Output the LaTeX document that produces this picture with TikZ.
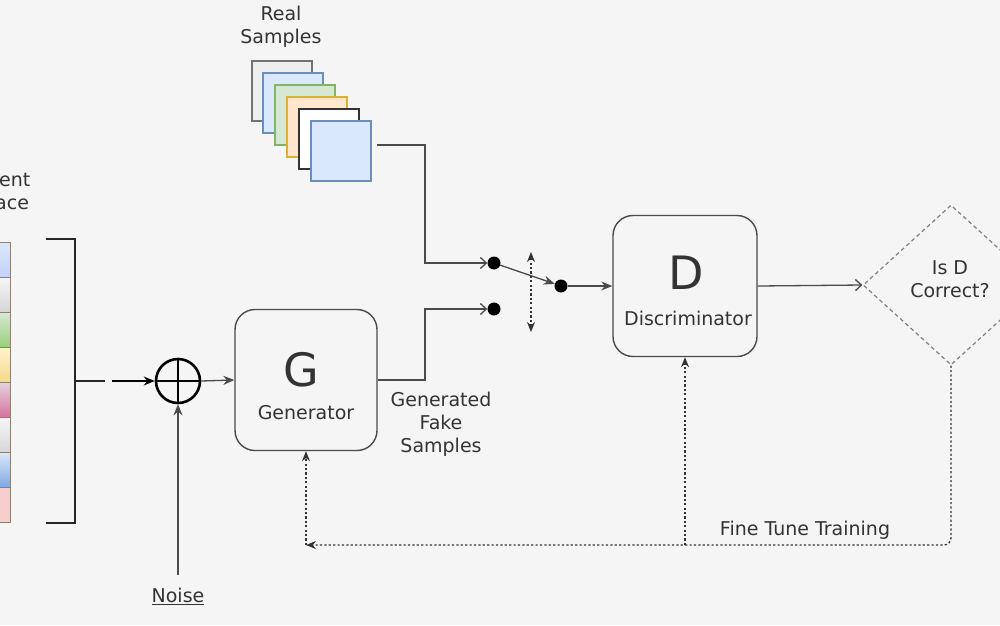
\documentclass[tikz,border=0pt]{standalone}
\usepackage{fontspec}
\setmainfont{DejaVu Sans}
\usetikzlibrary{arrows.meta,shapes.geometric}
\definecolor{bg}{HTML}{F5F5F5}
\definecolor{ink}{HTML}{333333}
\definecolor{ln}{HTML}{4A4A4A}
\definecolor{lblue}{HTML}{DAE8FC}
\definecolor{bblue}{HTML}{6C8EBF}
\definecolor{lgreen}{HTML}{D5E8D4}
\definecolor{bgreen}{HTML}{82B366}
\definecolor{lorange}{HTML}{FFE6CC}
\definecolor{borange}{HTML}{D79B00}
\definecolor{lgrey}{HTML}{EEEEEE}
\definecolor{gA}{HTML}{F5F5F5}
\definecolor{gB}{HTML}{D6D6D6}
\definecolor{grA}{HTML}{D5E8D4}
\definecolor{grB}{HTML}{97D077}
\definecolor{yA}{HTML}{FFF2CC}
\definecolor{yB}{HTML}{F5D98A}
\definecolor{pA}{HTML}{E6D0DE}
\definecolor{pB}{HTML}{D5739D}
\definecolor{bA}{HTML}{DAE8FC}
\definecolor{bB}{HTML}{7EA6E0}
\definecolor{rA}{HTML}{F8CECC}
\tikzset{
  dtip/.tip={Stealth[length=10pt,width=8pt]},
  txt/.style={text=ink, font=\fontsize{19}{23}\selectfont, align=center, inner sep=0pt},
  big/.style={text=ink, font=\fontsize{46}{46}\selectfont, inner sep=0pt},
  blockbox/.style={draw=ln, line width=1.4pt, rounded corners=20pt, fill=bg, minimum width=142pt, minimum height=141pt, inner sep=0pt},
  sample/.style={line width=1.2pt, minimum size=60pt, inner sep=0pt},
  latbox/.style={draw=gray!80!brown, line width=1pt, minimum width=41pt, minimum height=35pt, inner sep=0pt},
  conn/.style={draw=ln, line width=1.3pt},
  filltip/.style={-{Stealth[length=11pt,width=9pt]}},
  opentip/.style={-{Straight Barb[length=6pt,width=11pt,line width=1.3pt]}},
  dotl/.style={draw=ink, line width=1.3pt, dash pattern=on 2.2pt off 2.2pt},
  swdot/.style={circle, fill=black, minimum size=13pt, inner sep=0pt},
}
\begin{document}
\begin{tikzpicture}[x=1pt,y=-1pt]
\useasboundingbox[fill=bg] (0,0) rectangle (1000,625);
\clip (0,0) rectangle (1000,625);

% latent space
\node[txt] (latlabel) at (0,193) {Latent\\Space};
\node[latbox, top color=lblue, bottom color=lblue!90!blue]  (lat1) at (-10,260) {};
\node[latbox, top color=gA, bottom color=gB]  (lat2) at (-10,295) {};
\node[latbox, top color=grA, bottom color=grB]  (lat3) at (-10,330) {};
\node[latbox, top color=yA, bottom color=yB]  (lat4) at (-10,365) {};
\node[latbox, top color=pA, bottom color=pB]  (lat5) at (-10,400) {};
\node[latbox, top color=gA, bottom color=gB]  (lat6) at (-10,435) {};
\node[latbox, top color=bA, bottom color=bB]  (lat7) at (-10,470) {};
\node[latbox, fill=rA]  (lat8) at (-10,505) {};

% bracket
\coordinate (bk) at (75,381);
\draw[black!85, line width=2.6pt] (46,239) -- (75,239) -- (75,523) -- (46,523);
\draw[black!85, line width=2.6pt] (bk) -- ++(30,0);
\coordinate (bkout) at (112,381);

% plus
\node[circle, draw=black, line width=2.6pt, minimum size=44pt, inner sep=0pt] (plus) at (178,381) {};
\draw[black, line width=2.6pt] (plus.north) -- (plus.south) (plus.west) -- (plus.east);
\draw[draw=black, line width=1.3pt, filltip] (bkout) -- (plus.west);

% noise
\node[txt] (noise) at (178,596) {\underline{Noise}};
\draw[conn, filltip, shorten <=12pt] (noise.north) -- (plus.south);

% generator
\node[blockbox] (G) at (306,380) {};
\node[big] (Gletter) at (301,370) {G};
\node[txt] (Glabel) at (306,413) {Generator};
\draw[conn, filltip] (plus.east) -- (G.west);
\node[txt] (fake) at (441,424) {Generated\\Fake\\Samples};

% real samples
\node[txt] (real) at (281,27) {Real\\Samples};
\node[sample, draw=gray!90!black, fill=lgrey] (rs1) at (282,91) {};
\node[sample, draw=bblue, fill=lblue] (rs2) at (293,103) {};
\node[sample, draw=bgreen, fill=lgreen] (rs3) at (305,115) {};
\node[sample, draw=borange!80, fill=lorange] (rs4) at (317,127) {};
\node[sample, draw=ink, fill=white] (rs5) at (329,139) {};
\node[sample, draw=bblue, fill=lblue] (rs6) at (341,151) {};
\coordinate (rsout) at (377,145);

% switch
\node[swdot] (s1) at (494,263) {};
\node[swdot] (s2) at (494,309) {};
\node[swdot] (s3) at (561,286) {};
\coordinate (swtop) at (531,252);
\coordinate (swbot) at (531,332);
\draw[conn, opentip] (rsout) -- (425,145) |- (s1);
\draw[conn, opentip] (G.east) -- (425,380) |- (s2);
\draw[conn, filltip] (s1) -- (s3);
\draw[dotl, dtip-dtip] (swtop) -- (swbot);

% discriminator
\node[blockbox, minimum width=144pt] (D) at (685,286) {};
\node[big] (Dletter) at (686,273) {D};
\node[txt] (Dlabel) at (688,318) {Discriminator};
\draw[conn, filltip] (s3) -- (D.west);

% decision
\node[diamond, draw=gray, line width=1.2pt, dash pattern=on 4pt off 3pt, minimum width=176pt, minimum height=160pt, inner sep=0pt] (dia) at (951,285) {};
\node[txt] (dialabel) at (950,279) {Is D\\Correct?};
\draw[conn, opentip] (D.east) -- (dia.west);

% feedback
\coordinate (fbR) at (951,545);
\coordinate (fbL) at (306,545);
\coordinate (fbD) at (685,545);
\draw[dotl, rounded corners=7pt, -dtip] (dia.south) -- (fbR) -- (fbL);
\draw[dotl, -dtip] (fbL) -- (G.south);
\draw[dotl, -dtip] (fbD) -- (D.south);
\node[txt] (fine) at (805,530) {Fine Tune Training};
\end{tikzpicture}
\end{document}
